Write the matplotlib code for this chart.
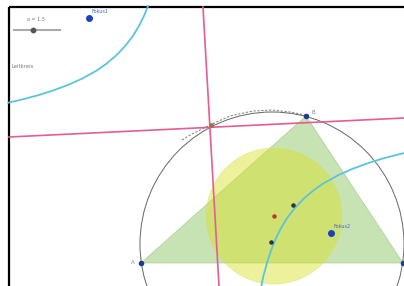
import numpy as np
import matplotlib
matplotlib.use("Agg")
import matplotlib.pyplot as plt
from matplotlib.patches import Polygon, Circle

# screen coordinates (pixels, y downwards)
tri_x = [141, 403, 306]
tri_y = [263, 263, 116]

circum_center = (272, 244)
circum_r = 132

yellow_center = (274, 216)
yellow_r = 68

# pink lines (asymptotes)
line1_x = [203, 219]
line1_y = [7, 286]
line2_x = [9, 404]
line2_y = [137, 118]

# hyperbola branches (cyan)
branch1_x = [8.3, 23.1, 37.9, 52.7, 67.4, 82.0, 96.6, 106.2, 115.8, 125.2,
             132.7, 139.1, 143.6, 148.0]
branch1_y = [102.7, 99.2, 95.3, 90.6, 85.2, 78.7, 70.6, 63.9, 55.8, 45.9,
             36.3, 25.7, 16.8, 6.2]
branch2_x = [411.7, 396.9, 382.1, 367.3, 352.6, 338.0, 323.4, 313.8, 304.2,
             294.8, 287.3, 280.9, 276.4, 272.0, 267.7, 263.5, 261.2]
branch2_y = [151.3, 154.8, 158.7, 163.4, 168.8, 175.3, 183.4, 190.1, 198.2,
             208.1, 217.7, 228.3, 237.2, 247.8, 260.4, 275.6, 286.6]

# dashed gray arc to the top vertex
arc_x = [182, 190, 210, 230, 253, 272, 290, 305]
arc_y = [140, 135, 125, 116, 111, 110, 112, 115]

foci_x = [89, 331]
foci_y = [18, 233]
foci_labels = ["Fokus1", "Fokus2"]

fig = plt.figure(figsize=(4.04, 2.86), dpi=100)
ax = fig.add_axes([0, 0, 1, 1])
ax.set_xlim(0, 404)
ax.set_ylim(286, 0)
ax.axis("off")

# frame (left and top only)
ax.plot([8.5, 8.5], [6.5, 286], color="black", lw=1.6, solid_capstyle="butt")
ax.plot([8.5, 404], [6.5, 6.5], color="black", lw=1.6, solid_capstyle="butt")

ax.add_patch(Polygon(list(zip(tri_x, tri_y)), closed=True, facecolor="#99cc77",
                     alpha=0.55, edgecolor="#8fbf70", lw=0.6, zorder=2))
ax.add_patch(Circle(yellow_center, yellow_r, facecolor="#d9e021", alpha=0.45,
                    edgecolor="#d6df6a", lw=0.6, zorder=3))
ax.add_patch(Circle(circum_center, circum_r, facecolor="none", edgecolor="#666666",
                    lw=0.7, zorder=4))

ax.plot(line1_x, line1_y, color="#e65c94", lw=1.2, zorder=5)
ax.plot(line2_x, line2_y, color="#e65c94", lw=1.2, zorder=5)
ax.plot(branch1_x, branch1_y, color="#5bc4dc", lw=1.3, zorder=5)
ax.plot(branch2_x, branch2_y, color="#5bc4dc", lw=1.3, zorder=5)
ax.plot(arc_x, arc_y, color="#888888", lw=0.8, ls=(0, (2, 1.5)), zorder=5)

# triangle vertices
ax.scatter(tri_x, tri_y, s=9, color="#1f3a93", zorder=7)
ax.text(311, 114, "B", fontsize=4, color="#6f86d6", zorder=8)
ax.text(131, 263, "A", fontsize=4, color="#6f86d6", va="center", zorder=8)

# foci
ax.scatter(foci_x, foci_y, s=16, color="#1f3fbf", zorder=7)
for fx, fy, lab in zip(foci_x, foci_y, foci_labels):
    ax.text(fx + 2, fy - 5, lab, fontsize=3.5, color="#4a63c8", zorder=8)

# small points
ax.scatter([274], [216], s=5, color="#c0392b", zorder=7)
ax.scatter([293, 271], [205, 242], s=5, color="#333333", zorder=7)
ax.scatter([211], [125], s=6, color="#a0704a", zorder=7)

# slider and text
ax.plot([14, 60], [30, 30], color="#aaaaaa", lw=1.5)
ax.scatter([33], [30], s=10, color="#555555", zorder=7)
ax.text(36, 21, "a = 1.5", fontsize=3.5, color="#777777", ha="center")
ax.text(12, 66, "Leitkreis", fontsize=3.8, color="#777777", va="center")

fig.savefig("out.png", dpi=100)
